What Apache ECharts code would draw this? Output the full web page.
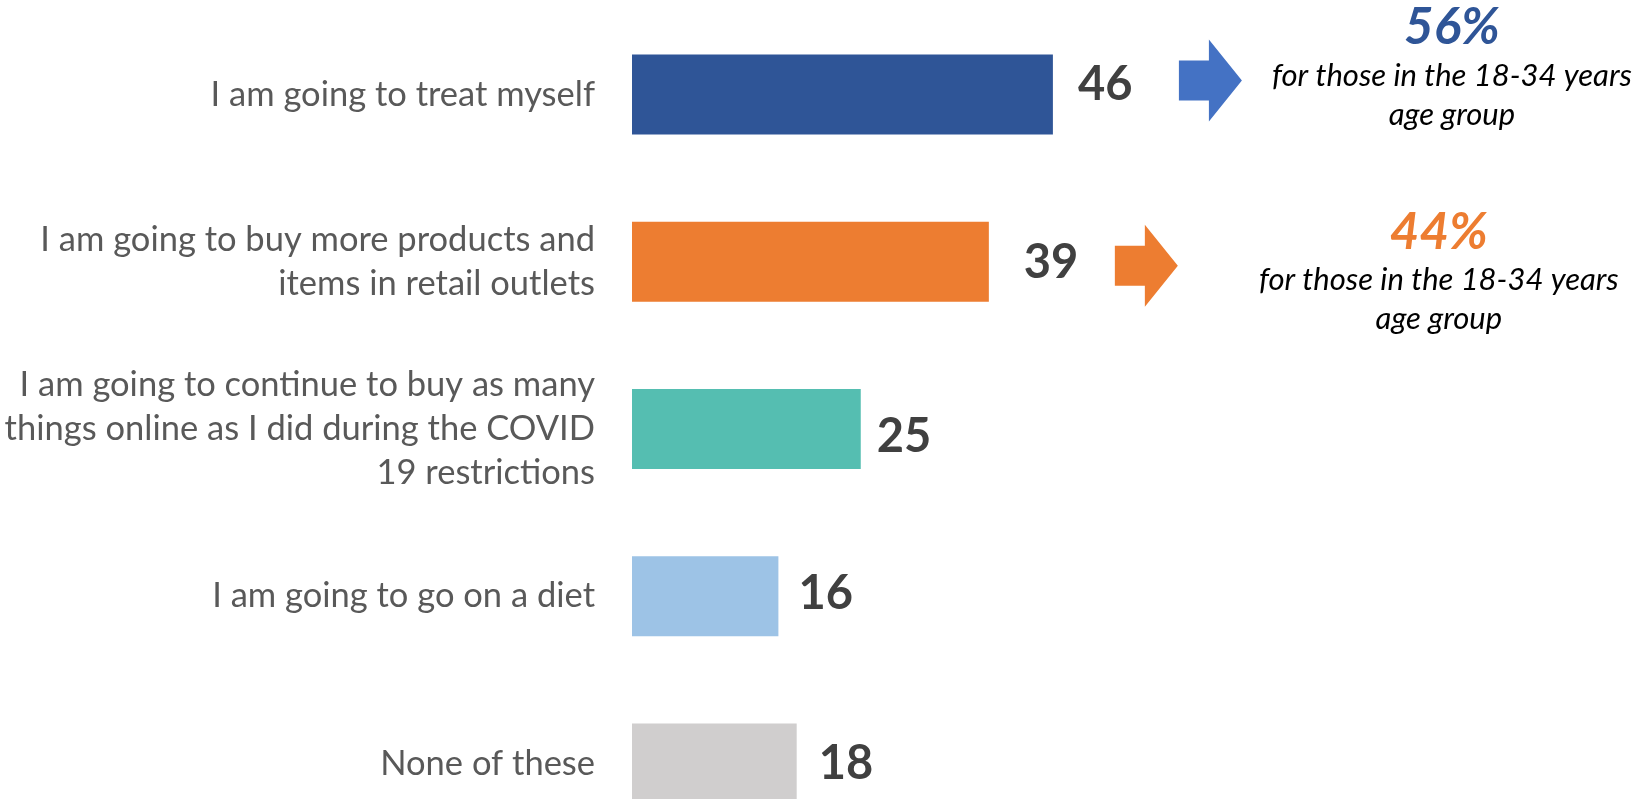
<!DOCTYPE html>
<html>
<head>
<meta charset="utf-8">
<script src="https://cdn.jsdelivr.net/npm/echarts@6/dist/echarts.min.js"></script>
<style>
  html, body { margin: 0; padding: 0; background: #ffffff; overflow: hidden; }
  /* the last row runs past the bottom edge of the view */
  #chart { width: 1637px; height: 848px; }
</style>
</head>
<body>
<div id="chart"></div>
<script>
// Survey answers, top to bottom
const categories = [
  'I am going to treat myself',
  'I am going to buy more products and\nitems in retail outlets',
  'I am going to continue to buy as many\nthings online as I did during the COVID\n19 restrictions',
  'I am going to go on a diet',
  'None of these'
];
const values = [46, 39, 25, 16, 18];
const barColors = ['#2F5597', '#ED7D31', '#55BEB1', '#9DC3E6', '#D0CECE'];

// Share among 18-34 year olds, shown beside the first two answers
const youngRows = [0, 1];
const youngShare = [56, 44];
const youngColors = ['#2F5597', '#ED7D31'];
const arrowColors = ['#4472C4', '#ED7D31'];
const youngNote = ['for those in the 18-34 years', 'age group'];

// Hand-nudged value label placement, per row
const labelNudge = [[3, -9.5], [13, 1], [-6, 8], [-2, -2.5], [0, 0]];

const FONT = 'Lato, "Open Sans", sans-serif';

const chart = echarts.init(document.getElementById('chart'), null, { renderer: 'canvas' });

chart.setOption({
  backgroundColor: '#ffffff',
  animation: false,
  grid: { left: 632, top: 11, width: 915, height: 836, containLabel: false },
  xAxis: { type: 'value', min: 0, max: 100, show: false },
  yAxis: {
    type: 'category',
    inverse: true,
    data: categories,
    axisLine: { show: false },
    axisTick: { show: false },
    axisLabel: {
      margin: 37,
      color: '#595959',
      fontFamily: FONT,
      fontSize: 34.5,
      lineHeight: 44,
      align: 'right'
    }
  },
  series: [{
    type: 'bar',
    data: values.map((v, i) => ({
      value: v,
      itemStyle: { color: barColors[i] },
      label: { offset: labelNudge[i] }
    })),
    barWidth: 80,
    label: {
      show: true,
      position: 'right',
      distance: 22,
      color: '#404040',
      fontFamily: FONT,
      fontWeight: 'bold',
      fontSize: 47
    }
  }]
});

// Arrows and notes placed from each bar's end and centre
const arrowGap = 126;        // from bar end to arrow start
const arrowDy = [-14, 4];    // arrow centre relative to bar centre
const noteDx = [210, 261];   // note centre relative to arrow tip
const noteDy = [-19, 18.5];  // first note line relative to bar centre

const graphics = [];
youngRows.forEach((row, k) => {
  const p = chart.convertToPixel({ seriesIndex: 0 }, [values[row], row]);
  const x0 = p[0] + arrowGap;
  const cy = p[1] + arrowDy[k];
  graphics.push({
    type: 'polygon',
    shape: {
      points: [
        [x0, cy - 20], [x0 + 30, cy - 20], [x0 + 30, cy - 41],
        [x0 + 63, cy], [x0 + 30, cy + 41], [x0 + 30, cy + 20], [x0, cy + 20]
      ]
    },
    style: { fill: arrowColors[k] }
  });
  const tx = x0 + 63 + noteDx[k];
  const ty = p[1] + noteDy[k];
  graphics.push({
    type: 'text',
    x: tx, y: ty - 48,
    style: {
      text: youngShare[k] + '%',
      fill: youngColors[k],
      font: 'italic bold 51px ' + FONT,
      textAlign: 'center',
      textVerticalAlign: 'middle'
    }
  });
  youngNote.forEach((line, j) => {
    graphics.push({
      type: 'text',
      x: tx, y: ty + j * 39,
      style: {
        text: line,
        fill: '#000000',
        font: 'italic 31px ' + FONT,
        textAlign: 'center',
        textVerticalAlign: 'middle'
      }
    });
  });
});
chart.setOption({ graphic: graphics });
</script>
</body>
</html>
